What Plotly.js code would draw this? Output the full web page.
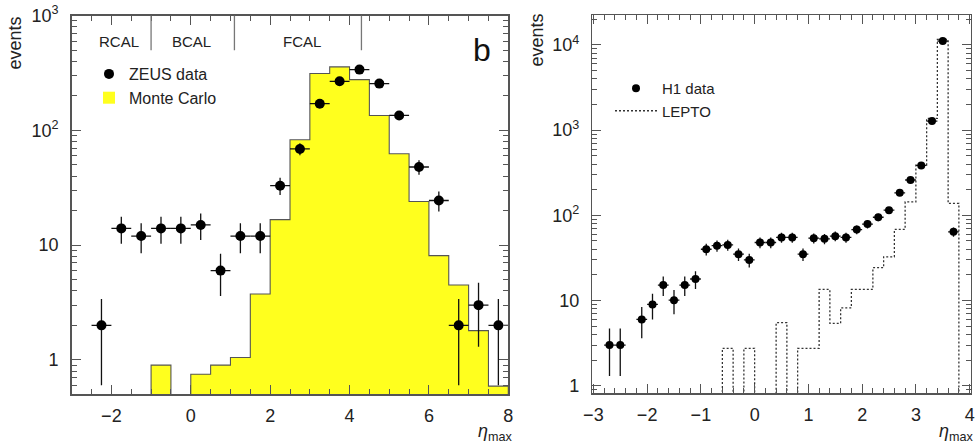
<!DOCTYPE html>
<html>
<head>
<meta charset="utf-8">
<script src="https://cdn.plot.ly/plotly-3.0.1.min.js"></script>
<style>html,body{margin:0;padding:0;background:#fff;}#chart{width:976px;height:444px;}</style>
</head>
<body>
<div id="chart"></div>
<script>
// ---------- Left panel (ZEUS) ----------
const zeusEta = [-2.25,-1.75,-1.25,-0.75,-0.25,0.25,0.75,1.25,1.75,2.25,2.75,3.25,3.75,4.25,4.75,5.25,5.75,6.25,6.75,7.25,7.75];
const zeusEvents = [2,14,12,14,14,15,6,12,12,33,69,171,268,339,256,135,48,24.5,2,3,2];
const zeusErr = [1.4,3.7,3.5,3.7,3.7,3.9,2.4,3.5,3.5,5.7,8.3,13,16,18,16,11.6,6.9,4.9,1.4,1.7,1.4];
const zeusBinHalf = 0.25;

const mcEta = [-1.25,-0.75,-0.25,0.25,0.75,1.25,1.75,2.25,2.75,3.25,3.75,4.25,4.75,5.25,5.75,6.25,6.75,7.25,7.75];
const mcEvents = [0,0.9,0,0.75,0.9,1.05,3.75,16.7,83,313,358,277,135,62.6,24,8.1,4.5,1.8,0.59];
const mcBinWidth = 0.5;

const calEdges = [-1, 1.1, 4.3];
const calNames = ['RCAL','BCAL','FCAL'];
const calNameEta = [-1.8, 0.02, 2.8];

const leftYTicks = [1,10,100,1000];
const leftYTickText = ['1','10','10<sup>2</sup>','10<sup>3</sup>'];

// ---------- Right panel (H1) ----------
const h1Eta = [-2.7,-2.5,-2.1,-1.9,-1.7,-1.5,-1.3,-1.1,-0.9,-0.7,-0.5,-0.3,-0.1,0.1,0.3,0.5,0.7,0.9,1.1,1.3,1.5,1.7,1.9,2.1,2.3,2.5,2.7,2.9,3.1,3.3,3.5,3.7];
const h1Events = [3,3,6,9,15.2,10.1,15.2,17.9,40,44,45,35,30,48,48,55,55,35,54,53,57,55,68,79,95,115,184,260,386,1280,11100,64];
const h1Err = [1.7,1.7,2.4,3,3.9,3.2,3.9,4.2,6.3,6.6,6.7,5.9,5.5,6.9,6.9,7.4,7.4,5.9,7.3,7.3,7.5,7.4,8.2,8.9,9.7,10.7,13.6,16.1,19.6,35.8,105,8];
const h1BinHalf = 0.1;

const leptoEta = [-0.7,-0.5,-0.3,-0.1,0.1,0.3,0.5,0.7,0.9,1.1,1.3,1.5,1.7,1.9,2.1,2.3,2.5,2.7,2.9,3.1,3.3,3.5,3.7,3.9];
const leptoEvents = [0,2.75,0,2.75,0,0,5.5,0,2.75,2.75,13.5,5.4,8.2,13.5,13.5,24.3,32.6,68.5,144,389,1375,11600,138,0];
const leptoBinWidth = 0.2;

const rightYTicks = [1,10,100,1000,10000];
const rightYTickText = ['1','10','10<sup>2</sup>','10<sup>3</sup>','10<sup>4</sup>'];

function stepLine(centers, values, width) {
  const floor = 1e-3;
  const xs = centers.map(c => c - width / 2);
  const ys = values.map(v => v > 0 ? v : floor);
  xs.push(centers[centers.length - 1] + width / 2);
  ys.push(floor);
  return {xs, ys};
}
function minorLog(lo, hi) {
  const out = [];
  for (let d = lo; d <= hi; d++) for (let k = 2; k <= 9; k++) out.push(k * Math.pow(10, d));
  return out;
}

const mcStep = stepLine(mcEta, mcEvents, mcBinWidth);
const leptoStep = stepLine(leptoEta, leptoEvents, leptoBinWidth);

const FONT = 'Liberation Sans, Arial, Helvetica, sans-serif';
const AX = '#555';

const traces = [
  {type:'bar', x: mcEta, y: mcEvents, width: mcBinWidth, name:'Monte Carlo',
   marker:{color:'#ffff1e', line:{width:0}}, xaxis:'x', yaxis:'y', legend:'legend', hoverinfo:'skip'},
  {type:'scatter', mode:'lines', x: mcStep.xs, y: mcStep.ys, line:{shape:'hv', color:'#555', width:1.1},
   showlegend:false, xaxis:'x', yaxis:'y', hoverinfo:'skip'},
  {type:'scatter', mode:'markers', x: zeusEta, y: zeusEvents, name:'ZEUS data',
   marker:{color:'#000', size:10},
   error_y:{type:'data', array: zeusErr, color:'#111', thickness:1.3, width:0},
   error_x:{type:'constant', value: zeusBinHalf, color:'#111', thickness:1.3, width:0},
   xaxis:'x', yaxis:'y', legend:'legend'},
  {type:'scatter', mode:'lines', x: leptoStep.xs, y: leptoStep.ys, name:'LEPTO',
   line:{shape:'hv', color:'#333', width:1.3, dash:'2px,2px'}, xaxis:'x2', yaxis:'y2', legend:'legend2'},
  {type:'scatter', mode:'markers', x: h1Eta, y: h1Events, name:'H1 data',
   marker:{color:'#000', size:8},
   error_y:{type:'data', array: h1Err, color:'#111', thickness:1.3, width:0},
   error_x:{type:'constant', value: h1BinHalf, color:'#111', thickness:1.3, width:0},
   xaxis:'x2', yaxis:'y2', legend:'legend2'}
];
traces[0].legendrank = 2; traces[2].legendrank = 1;
traces[3].legendrank = 2; traces[4].legendrank = 1;

const W = 976, H = 444;
function px2x(p){return p / W;}
function px2y(p){return (H - p) / H;}

const axBase = {
  showline:true, linecolor:AX, linewidth:1.5, mirror:'allticks',
  ticks:'inside', ticklen:9, tickwidth:1, tickcolor:AX,
  showgrid:false, zeroline:false,
  tickfont:{family:FONT, size:18, color:'#222'}
};

const shapes = calEdges.map(e => ({type:'line', xref:'x', yref:'y domain', x0:e, x1:e, y0:0.909, y1:1,
  line:{color:'#777', width:1.3}}));

const annotations = [
  ...calNames.map((n,i) => ({text:n, xref:'x', yref:'y domain', x: calNameEta[i], y:0.931,
    xanchor:'center', yanchor:'middle',
    showarrow:false, font:{family:FONT, size:15, color:'#222'}})),
  {text:'b', xref:'x domain', yref:'y domain', x:0.939, y:0.909, xanchor:'center', yanchor:'middle', showarrow:false,
   font:{family:FONT, size:32, color:'#111'}},
  {text:'events', xref:'paper', yref:'paper', x:px2x(15), y:px2y(15), xanchor:'center', yanchor:'top',
   textangle:-90, showarrow:false, font:{family:FONT, size:18, color:'#222'}},
  {text:'events', xref:'paper', yref:'paper', x:px2x(537), y:px2y(12), xanchor:'center', yanchor:'top',
   textangle:-90, showarrow:false, font:{family:FONT, size:18, color:'#222'}},
  {text:'<i>η</i><sub>max</sub>', xref:'paper', yref:'paper', x:px2x(514), y:px2y(432), xanchor:'right', yanchor:'middle',
   showarrow:false, font:{family:FONT, size:18, color:'#222'}},
  {text:'<i>η</i><sub>max</sub>', xref:'paper', yref:'paper', x:px2x(975), y:px2y(432), xanchor:'right', yanchor:'middle',
   showarrow:false, font:{family:FONT, size:18, color:'#222'}}
];

const layout = {
  width: W, height: H,
  margin:{l:0, r:0, t:0, b:0},
  paper_bgcolor:'#fff', plot_bgcolor:'#fff',
  font:{family:FONT},
  bargap:0, barmode:'overlay',
  showlegend:true,
  xaxis: Object.assign({}, axBase, {domain:[px2x(71.7), px2x(508.3)], range:[-3, 8], dtick:2, tick0:0,
    anchor:'y', ticklabelstandoff:5, minor:{dtick:0.5, ticks:'inside', ticklen:5, tickcolor:AX}}),
  yaxis: Object.assign({}, axBase, {domain:[px2y(394.3), px2y(15.7)], type:'log', range:[-0.3, 3],
    anchor:'x', tickmode:'array', tickvals:leftYTicks, ticktext:leftYTickText, ticklabelstandoff:8,
    minor:{tickmode:'array', tickvals:minorLog(-1,2), ticks:'inside', ticklen:5, tickcolor:AX}}),
  xaxis2: Object.assign({}, axBase, {domain:[px2x(592.3), px2x(970.7)], range:[-3.02, 4.02], dtick:1, tick0:0,
    anchor:'y2', ticklabelstandoff:5, minor:{dtick:0.2, ticks:'inside', ticklen:5, tickcolor:AX}}),
  yaxis2: Object.assign({}, axBase, {domain:[px2y(393.3), px2y(15)], type:'log', range:[-0.089, 4.352],
    anchor:'x2', tickmode:'array', tickvals:rightYTicks, ticktext:rightYTickText, ticklabelstandoff:8,
    minor:{tickmode:'array', tickvals:minorLog(-1,4), ticks:'inside', ticklen:5, tickcolor:AX}}),
  legend:{x:px2x(89), y:px2y(57), xanchor:'left', yanchor:'top', bgcolor:'rgba(0,0,0,0)',
    font:{family:FONT, size:16, color:'#222'}, tracegroupgap:0, itemwidth:30},
  legend2:{x:px2x(610), y:px2y(72), xanchor:'left', yanchor:'top', bgcolor:'rgba(0,0,0,0)',
    font:{family:FONT, size:15, color:'#222'}, itemwidth:42},
  shapes, annotations
};

Plotly.newPlot('chart', traces, layout, {staticPlot:true, displayModeBar:false});
</script>
</body>
</html>
